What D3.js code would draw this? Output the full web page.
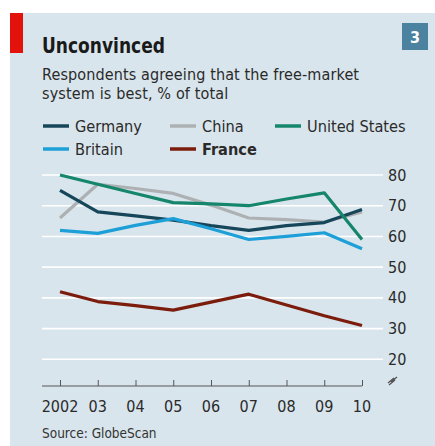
<!DOCTYPE html>
<html>
<head>
<meta charset="utf-8">
<script src="https://cdn.jsdelivr.net/npm/d3@7"></script>
<style>
  html, body { margin: 0; padding: 0; background: #ffffff; }
  svg { display: block; }
  text { font-family: "DejaVu Sans Condensed", "Liberation Sans Narrow", "Noto Sans", sans-serif; }
</style>
</head>
<body>
<svg id="chart" width="435" height="446"></svg>
<script>
// Survey years and share of respondents agreeing, % of total
const years = [2002, 2003, 2004, 2005, 2006, 2007, 2008, 2009, 2010];
const yearLabels = ["2002", "03", "04", "05", "06", "07", "08", "09", "10"];
const germany      = [75, 68, 66.7, 65.3, 63.5, 62, 63.5, 64.5, 68.8];
const china        = [66, 77, 75.6, 74, 70.2, 66, 65.5, 64.7, 68];
const unitedStates = [80, 77, 74, 71, 70.6, 70, 72.2, 74.2, 59];
const britain      = [62, 61, 63.6, 65.8, 62.5, 59, 60, 61.2, 56];
const france       = [42, 38.8, 37.5, 36, 38.6, 41.2, 37.7, 34.2, 31];
const yTicks = [20, 30, 40, 50, 60, 70, 80];

const series = [
  { name: "China",         values: china,        color: "#aeb1b3" },
  { name: "Germany",       values: germany,      color: "#16465a" },
  { name: "Britain",       values: britain,      color: "#1d9fd8" },
  { name: "United States", values: unitedStates, color: "#15866c" },
  { name: "France",        values: france,       color: "#7b1c0c" }
];

const svg = d3.select("#chart");
const W = 435, H = 446;

// panel background and red tag
svg.append("rect").attr("x", 10).attr("y", 13).attr("width", W - 10).attr("height", H - 13).attr("fill", "#d9e5ec");
svg.append("rect").attr("x", 10).attr("y", 13).attr("width", 13).attr("height", 40).attr("fill", "#e3120b");

// title & subtitle
svg.append("text").attr("x", 42).attr("y", 53).attr("font-size", 21).attr("font-weight", "bold")
  .attr("textLength", 123).attr("lengthAdjust", "spacingAndGlyphs")
  .attr("fill", "#1a1a1a").text("Unconvinced");
svg.append("text").attr("x", 42).attr("y", 79.5).attr("font-size", 16).attr("fill", "#2a2a2a")
  .attr("textLength", 317).attr("lengthAdjust", "spacing")
  .text("Respondents agreeing that the free-market");
svg.append("text").attr("x", 42).attr("y", 98.5).attr("font-size", 16).attr("fill", "#2a2a2a")
  .attr("letter-spacing", 0.15)
  .text("system is best, % of total");

// chart number badge
svg.append("rect").attr("x", 402).attr("y", 23).attr("width", 26).attr("height", 27).attr("fill", "#4a82a0");
svg.append("text").attr("x", 415).attr("y", 43).attr("font-size", 16).attr("font-weight", "bold")
  .attr("text-anchor", "middle").attr("fill", "#ffffff").text("3");

// legend
const legendItems = [
  { name: "Germany", color: "#16465a", x: 43, y: 126, bold: false },
  { name: "China", color: "#aeb1b3", x: 170, y: 126, bold: false },
  { name: "United States", color: "#15866c", x: 275, y: 126, bold: false },
  { name: "Britain", color: "#1d9fd8", x: 43, y: 149, bold: false },
  { name: "France", color: "#7b1c0c", x: 170, y: 149, bold: true }
];
const lg = svg.append("g");
legendItems.forEach(d => {
  lg.append("line").attr("x1", d.x).attr("x2", d.x + 26).attr("y1", d.y).attr("y2", d.y)
    .attr("stroke", d.color).attr("stroke-width", 3.5);
  lg.append("text").attr("x", d.x + 32).attr("y", d.y + 5.5).attr("font-size", 16.2)
    .attr("font-weight", d.bold ? "bold" : "normal").attr("fill", "#2a2a2a").text(d.name);
});

// scales
const x = d3.scaleLinear().domain([2002, 2010]).range([60, 362]);
const y = d3.scaleLinear().domain([20, 80]).range([359.3, 175]);

// gridlines
svg.append("g").selectAll("line").data(yTicks).join("line")
  .attr("x1", 42).attr("x2", 383)
  .attr("y1", d => y(d)).attr("y2", d => y(d))
  .attr("stroke", "#ffffff").attr("stroke-width", 1.6);

// right-hand value axis
const yAxis = d3.axisRight(y).tickValues(yTicks).tickSize(0).tickPadding(0);
const ya = svg.append("g").attr("transform", "translate(388,0)").call(yAxis);
ya.select(".domain").remove();
ya.selectAll("text").attr("font-size", 16).attr("fill", "#2a2a2a")
  .attr("font-family", "DejaVu Sans Condensed, Liberation Sans Narrow, sans-serif");

// broken-axis marker
svg.append("path")
  .attr("d", "M388,383 L394,378 L391,382 L397,377 M389,385 L395,380")
  .attr("fill", "none").attr("stroke", "#555").attr("stroke-width", 1.3);

// bottom time axis
const axisY = 386;
const xAxis = d3.axisTop(x).tickValues(years).tickSize(6).tickFormat("");
const xa = svg.append("g").attr("transform", `translate(0,${axisY})`).call(xAxis);
xa.select(".domain").remove();
xa.selectAll("line").attr("stroke", "#555");
svg.append("line").attr("x1", 42).attr("x2", x(2010)).attr("y1", axisY).attr("y2", axisY)
  .attr("stroke", "#555").attr("stroke-width", 1);
svg.append("g").selectAll("text").data(years).join("text")
  .attr("x", d => x(d)).attr("y", 412).attr("text-anchor", "middle")
  .attr("font-size", 16).attr("fill", "#2a2a2a")
  .text((d, i) => yearLabels[i]);

// series lines
const line = d3.line().x((d, i) => x(years[i])).y(d => y(d));
svg.append("g").selectAll("path").data(series).join("path")
  .attr("d", d => line(d.values))
  .attr("fill", "none").attr("stroke", d => d.color)
  .attr("stroke-width", 3.2).attr("stroke-linejoin", "round").attr("stroke-linecap", "butt");

// source
svg.append("text").attr("x", 42).attr("y", 437.5).attr("font-size", 13.5).attr("fill", "#333")
  .text("Source: GlobeScan");
</script>
</body>
</html>
